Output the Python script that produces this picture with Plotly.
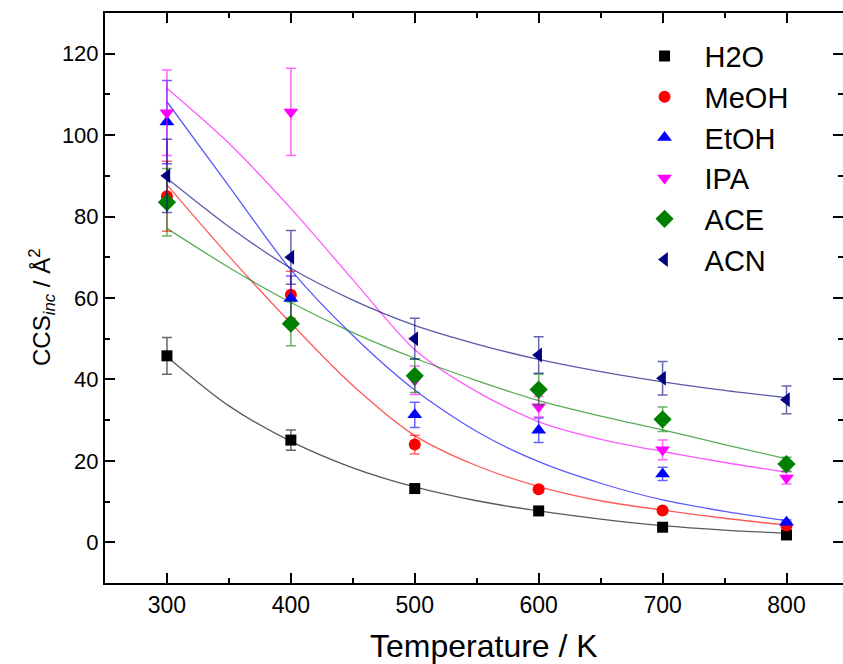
import plotly.graph_objects as go

# Temperatures of the simulations (K)
temperature = [300, 400, 500, 600, 700, 800]

# Incremental collision cross sections (Å^2) and their uncertainties
h2o = [45.8, 25.1, 13.2, 7.7, 3.7, 1.8]
h2o_err = [4.5, 2.5, 1.0, 0.8, 0.6, 0.5]
meoh = [85.0, 60.8, 24.0, 13.0, 7.8, 4.1]
meoh_err = [8.6, 5.8, 2.3, 0.8, 0.6, 0.5]
etoh = [103.2, 59.9, 31.3, 27.5, 16.8, 4.9]
etoh_err = [10.2, 5.5, 3.1, 3.0, 1.6, 0.6]
ipa = [105.5, 105.7, 39.8, 33.3, 22.7, 15.8]
ipa_err = [10.5, 10.7, 3.5, 2.5, 2.4, 1.5]
ace = [83.5, 53.7, 40.9, 37.5, 30.2, 19.2]
ace_err = [8.3, 5.4, 4.1, 3.8, 3.0, 1.7]
acn = [90.0, 70.0, 50.0, 46.0, 40.3, 35.0]
acn_err = [9.0, 6.6, 5.0, 4.5, 4.1, 3.4]

# Fitted trend curves, sampled every 50 K
fit_temperature = [300, 350, 400, 450, 500, 550, 600, 650, 700, 750, 800]
h2o_fit = [45.6, 33.5, 24.8, 18.3, 13.6, 10.2, 7.7, 5.7, 4.1, 3.0, 2.2]
meoh_fit = [87.8, 70.3, 53.8, 38.5, 26.2, 18.8, 13.7, 10.2, 7.9, 5.9, 4.2]
etoh_fit = [108.2, 87.5, 66.9, 50.8, 37.4, 27.2, 19.8, 14.5, 10.4, 7.6, 5.3]
ipa_fit = [111.5, 98.0, 82.0, 64.5, 47.3, 37.0, 29.6, 25.3, 22.3, 19.6, 17.2]
ace_fit = [77.1, 67.5, 58.9, 51.5, 45.2, 39.7, 34.8, 31.0, 27.6, 24.0, 20.5]
acn_fit = [89.4, 77.5, 67.3, 59.5, 53.3, 48.7, 44.9, 41.9, 39.4, 37.3, 35.5]

series = [
    ("H2O", h2o, h2o_err, h2o_fit, (0, 0, 0), "square", 11),
    ("MeOH", meoh, meoh_err, meoh_fit, (255, 0, 0), "circle", 12),
    ("EtOH", etoh, etoh_err, etoh_fit, (0, 0, 255), "triangle-up", 13),
    ("IPA", ipa, ipa_err, ipa_fit, (255, 0, 255), "triangle-down", 13),
    ("ACE", ace, ace_err, ace_fit, (0, 128, 0), "diamond", 14),
    ("ACN", acn, acn_err, acn_fit, (0, 0, 128), "triangle-left", 13),
]

FONT = "Liberation Sans, Arial, sans-serif"

# Plot area in pixels (left edge and width) used to place the axis titles
LEFT, WIDTH = 105, 738
BOTTOM, HEIGHT = 81, 570

fig = go.Figure()

# Fit curves underneath the markers
for name, vals, errs, fit, rgb, sym, size in series:
    r, g, b = rgb
    fig.add_trace(go.Scatter(
        x=fit_temperature, y=fit, mode="lines",
        line=dict(color=f"rgba({r},{g},{b},0.65)", width=1.3, shape="spline", smoothing=0.8),
        showlegend=False, hoverinfo="skip",
    ))

for i, (name, vals, errs, fit, rgb, sym, size) in enumerate(series):
    r, g, b = rgb
    fig.add_trace(go.Scatter(
        x=temperature, y=vals, mode="markers", name=name,
        legendgroup=f"g{i}",
        marker=dict(symbol=sym, size=size, color=f"rgb({r},{g},{b})", line=dict(width=0)),
        error_y=dict(type="data", array=errs, visible=True,
                     color=f"rgba({r},{g},{b},0.6)", thickness=1.5, width=5),
    ))

axis_common = dict(
    showline=True, linecolor="black", linewidth=2,
    mirror="allticks", ticks="inside", ticklen=10, tickwidth=2, tickcolor="black",
    showgrid=False, zeroline=False,
    automargin=False,
)

fig.update_xaxes(
    range=[250, 845.6], dtick=100, tick0=0,
    minor=dict(dtick=50, ticks="inside", ticklen=5, tickwidth=2, tickcolor="black"),
    tickfont=dict(family=FONT, size=23, color="black"),
    ticklabelstandoff=0,
    **axis_common,
)
fig.update_yaxes(
    range=[-10, 130], dtick=20, tick0=0,
    minor=dict(dtick=10, ticks="inside", ticklen=5, tickwidth=2, tickcolor="black"),
    tickfont=dict(family=FONT, size=22, color="black"),
    ticklabelstandoff=0,
    **axis_common,
)

# Axis titles
fig.add_annotation(
    text="Temperature / K", xref="paper", yref="paper",
    x=(484 - LEFT) / WIDTH, y=-(646 - 583) / HEIGHT,
    xanchor="center", yanchor="middle", showarrow=False,
    font=dict(family=FONT, size=32, color="black"),
)
fig.add_annotation(
    text="CCS<sub><i>inc</i></sub> / Å<sup>2</sup>", xref="paper", yref="paper",
    x=(42 - LEFT) / WIDTH, y=(583 - 307) / HEIGHT,
    xanchor="center", yanchor="middle", showarrow=False, textangle=-90,
    font=dict(family=FONT, size=24, color="black"),
)

fig.update_layout(
    width=843, height=664,
    margin=dict(l=LEFT, r=0, t=13, b=BOTTOM, autoexpand=False),
    paper_bgcolor="white", plot_bgcolor="white",
    legend=dict(
        x=0.704, y=0.969, xanchor="left", yanchor="top",
        font=dict(family=FONT, size=29, color="black"),
        itemwidth=70, tracegroupgap=0, traceorder="grouped",
        bgcolor="rgba(0,0,0,0)", borderwidth=0,
    ),
    showlegend=True,
)

fig.write_html("out.html")
